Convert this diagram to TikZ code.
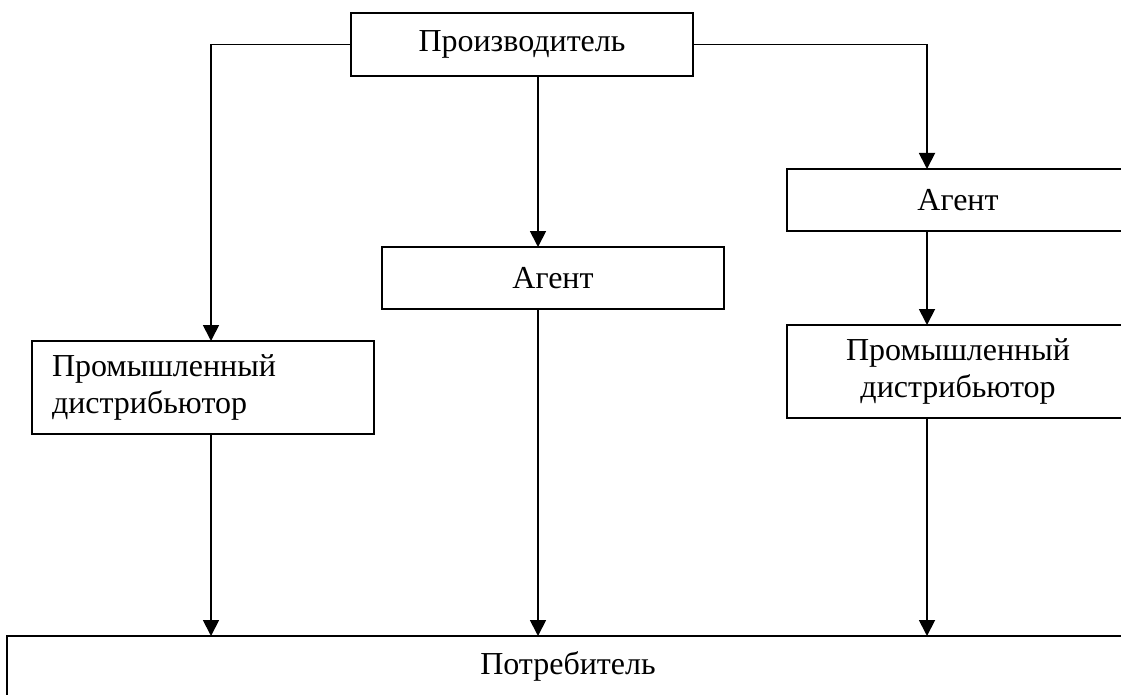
\documentclass[tikz,border=0pt]{standalone}
\usepackage{fontspec}
\setmainfont{Liberation Serif}
\usetikzlibrary{arrows.meta}
\begin{document}
\begin{tikzpicture}[x=1pt,y=-1pt,
  box/.style={draw, line width=1.8pt, rectangle, minimum width=342pt, inner sep=0pt, outer sep=0pt,
    font=\fontsize{32}{37}\selectfont, align=center},
  arr/.style={line width=1.8pt, -{Triangle[length=16pt,width=16pt]}}]
\useasboundingbox (0,0) rectangle (1121,695);
\clip (0,0) rectangle (1121,695);
\coordinate (cL) at (211,0);
\coordinate (cM) at (538,0);
\coordinate (cR) at (927,0);
\node[box, minimum height=63pt] (prod) at (522,44.5) {Производитель};
\node[box, minimum height=62pt] (magent) at (553,278) {Агент};
\node[box, minimum height=62pt] (ragent) at (958,200) {Агент};
\node[box, minimum height=93pt] (rdist) at (958,371.5) {Промышленный\\дистрибьютор};
\node[box, minimum height=93pt, text width=302pt, inner xsep=20pt, align=left] (ldist) at (203,387.5) {Промышленный\\дистрибьютор};
\node[box, minimum width=1122pt, minimum height=60pt] (cons) at (568,666) {Потребитель};
\draw[arr] (prod.west) -| (ldist.north -| cL);
\draw[arr] (prod.east) -| (ragent.north -| cR);
\draw[arr] (prod.south -| cM) -- (magent.north -| cM);
\draw[arr] (ragent.south -| cR) -- (rdist.north -| cR);
\draw[arr] (ldist.south -| cL) -- (cons.north -| cL);
\draw[arr] (magent.south -| cM) -- (cons.north -| cM);
\draw[arr] (rdist.south -| cR) -- (cons.north -| cR);
\end{tikzpicture}
\end{document}
